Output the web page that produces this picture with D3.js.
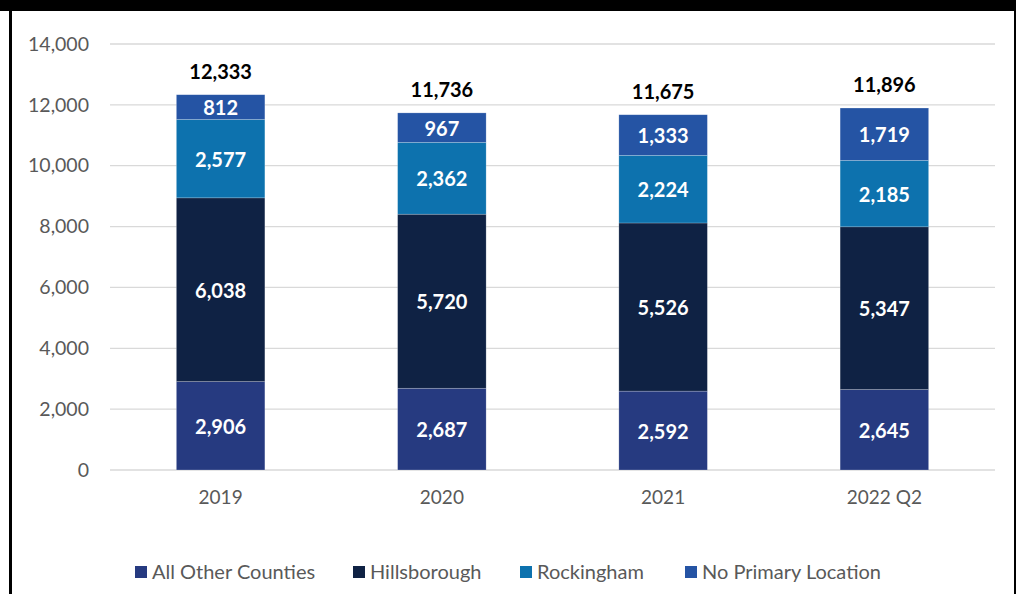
<!DOCTYPE html>
<html><head><meta charset="utf-8">
<script src="https://cdn.jsdelivr.net/npm/d3@7"></script>
<style>body{margin:0;background:#fff}svg{display:block}</style>
</head><body>
<script>
const categories = ["2019","2020","2021","2022 Q2"];
const seriesNames = ["All Other Counties","Hillsborough","Rockingham","No Primary Location"];
const allOther = [2906,2687,2592,2645];
const hillsborough = [6038,5720,5526,5347];
const rockingham = [2577,2362,2224,2185];
const noPrimary = [812,967,1333,1719];
const totals = [12333,11736,11675,11896];
const yTicks = [0,2000,4000,6000,8000,10000,12000,14000];
const colors = ["#263a80","#0f2244","#0d72ae","#2554a4"];

const W=1016,H=594;
const font = "Lato, 'Open Sans', sans-serif";
const svg = d3.select("body").append("svg").attr("width",W).attr("height",H);
svg.append("rect").attr("width",W).attr("height",H).attr("fill","#fff");
svg.append("rect").attr("x",0).attr("y",0).attr("width",W).attr("height",11).attr("fill","#000");
svg.append("rect").attr("x",9).attr("y",0).attr("width",3).attr("height",H).attr("fill","#000");
svg.append("rect").attr("x",1014).attr("y",0).attr("width",2).attr("height",H).attr("fill","#000");

const x = d3.scaleBand().domain(categories).range([110,995]).paddingInner(0.6).paddingOuter(0.3);
const y = d3.scaleLinear().domain([0,14000]).range([470,44]);

const grid = svg.append("g");
grid.selectAll("line").data(yTicks).join("line")
  .attr("x1",110).attr("x2",995).attr("y1",d=>y(d)).attr("y2",d=>y(d))
  .attr("stroke","#d9d9d9").attr("stroke-width",1.3);

const yAxis = d3.axisLeft(y).tickValues(yTicks).tickFormat(d3.format(",")).tickSize(0).tickPadding(0);
const ya = svg.append("g").attr("transform","translate(89,0)").call(yAxis);
ya.select(".domain").remove();
ya.selectAll("text").attr("font-family",font).attr("font-size",19.5).attr("fill","#595959");

const xAxis = d3.axisBottom(x).tickSize(0).tickPadding(0);
const xa = svg.append("g").attr("transform","translate(0,497)").call(xAxis);
xa.select(".domain").remove();
xa.selectAll("text").attr("font-family",font).attr("font-size",19).attr("fill","#595959").attr("dy","0.35em");

const rows = categories.map((c,i)=>({cat:c, "All Other Counties":allOther[i], "Hillsborough":hillsborough[i], "Rockingham":rockingham[i], "No Primary Location":noPrimary[i]}));
const stack = d3.stack().keys(seriesNames)(rows);

const layers = svg.append("g").selectAll("g").data(stack).join("g").attr("fill",(d,i)=>colors[i]);
layers.selectAll("rect").data(d=>d).join("rect")
  .attr("x",d=>x(d.data.cat)).attr("width",x.bandwidth())
  .attr("y",d=>y(d[1])).attr("height",d=>y(d[0])-y(d[1]))
  .attr("stroke","rgba(255,255,255,0.35)").attr("stroke-width",0.6);
layers.selectAll("text").data(d=>d).join("text")
  .attr("x",d=>x(d.data.cat)+x.bandwidth()/2)
  .attr("y",d=>(y(d[0])+y(d[1]))/2+1)
  .attr("dy","0.35em").attr("text-anchor","middle")
  .attr("font-family",font).attr("font-weight","bold").attr("font-size",20).attr("fill","#fff")
  .text(d=>d3.format(",")(d[1]-d[0]));

svg.append("g").selectAll("text").data(categories).join("text")
  .attr("x",d=>x(d)+x.bandwidth()/2)
  .attr("y",(d,i)=>y(totals[i])-23)
  .attr("dy","0.35em").attr("text-anchor","middle")
  .attr("font-family",font).attr("font-weight","bold").attr("font-size",20).attr("fill","#000")
  .text((d,i)=>d3.format(",")(totals[i]));

const legendX = [135,353,520,685];
const lg = svg.append("g").selectAll("g").data(seriesNames).join("g")
  .attr("transform",(d,i)=>`translate(${legendX[i]},572)`);
lg.append("rect").attr("x",0).attr("y",-6).attr("width",12).attr("height",12).attr("fill",(d,i)=>colors[i]);
lg.append("text").attr("x",17).attr("dy","0.35em").attr("font-family",font).attr("font-size",20).attr("fill","#595959").text(d=>d);
</script>
</body></html>
